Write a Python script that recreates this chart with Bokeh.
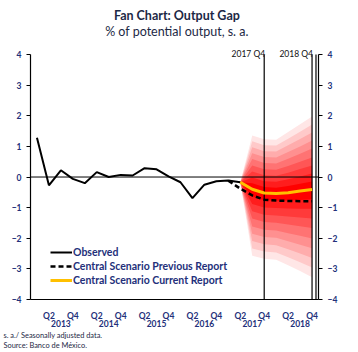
from bokeh.plotting import figure
from bokeh.models import (Range1d, LinearAxis, FixedTicker, Span, Label, Legend,
                          LegendItem, Title)
from bokeh.embed import file_html
from bokeh.resources import INLINE

# ---------------- data ----------------
# quarter index: 0 = 2013 Q1 ... 23 = 2018 Q4
obs_x = list(range(18))
observed = [1.28, -0.27, 0.22, -0.06, -0.20, 0.16, 0.00, 0.07, 0.05, 0.29,
            0.25, 0.02, -0.17, -0.69, -0.25, -0.14, -0.11, -0.17]

prev_x = [16, 17, 18, 19, 20, 21, 22, 23]
previous = [-0.12, -0.38, -0.60, -0.74, -0.77, -0.78, -0.79, -0.79]

curr_x = [17, 18, 19, 20, 21, 22, 23]
current = [-0.17, -0.40, -0.52, -0.54, -0.51, -0.46, -0.41]
fan_upper = [-0.17, 1.36, 1.23, 1.22, 1.47, 1.72, 1.98]
fan_lower = [-0.17, -2.57, -2.67, -2.70, -2.88, -3.07, -3.27]
band_shares = [1.0, 0.89, 0.78, 0.67, 0.56, 0.44, 0.33, 0.22, 0.11]

q_ticks = [1, 3, 5, 7, 9, 11, 13, 15, 17, 19, 21, 23]
q_labels = ["Q2", "Q4"] * 6
year_ticks = [2, 6, 10, 14, 18, 22]
year_labels = ["2013", "2014", "2015", "2016", "2017", "2018"]
y_ticks = [-4, -3, -2, -1, 0, 1, 2, 3, 4]
marker_x = [19, 23, 23.33]
marker_labels = ["2017 Q4", "2018 Q4"]

# ---------------- styles ----------------
FONT = "Lato"
NAVY = "#23307a"
DARK = "#1c2845"

p = figure(width=358, height=352, x_range=Range1d(-0.54, 23.54),
           y_range=Range1d(-4, 5.765), output_backend="svg", toolbar_location=None,
           x_axis_type=None, y_axis_type=None, title=None,
           min_border_left=30, min_border_right=40, min_border_top=0,
           min_border_bottom=53)
p.outline_line_color = None
p.background_fill_color = "white"
p.border_fill_color = "white"

# fan bands (outer -> inner)
n = len(band_shares)
for k, s in enumerate(band_shares):
    t = k / (n - 1)
    g = int(round(230 * (1 - t)))
    color = "#%02x%02x%02x" % (255, g, g)
    up = [c + s * (u - c) for c, u in zip(current, fan_upper)]
    lo = [c + s * (l - c) for c, l in zip(current, fan_lower)]
    p.varea(x=curr_x, y1=lo, y2=up, fill_color=color, fill_alpha=1.0)

# reference lines
p.add_layout(Span(location=0, dimension="width", line_color="black", line_width=1))
p.segment(x0=marker_x, y0=[-4] * len(marker_x), x1=marker_x, y1=[4] * len(marker_x),
          line_color="black", line_width=1.2)

r_obs = p.line(obs_x, observed, line_color="black", line_width=2)
r_prev = p.line(prev_x, previous, line_color="black", line_width=2.5, line_dash="5 3")
r_curr = p.line(curr_x, current, line_color="#ffc000", line_width=3)

# axes
left = LinearAxis(ticker=FixedTicker(ticks=y_ticks), bounds=(-4, 4))
right = LinearAxis(ticker=FixedTicker(ticks=y_ticks), bounds=(-4, 4))
for ax in (left, right):
    ax.axis_line_color = "black"
    ax.axis_line_width = 1.2
    ax.major_tick_out = 4
    ax.major_tick_in = 0
    ax.major_tick_line_color = "black"
    ax.minor_tick_line_color = None
    ax.major_label_standoff = 5
    ax.major_label_text_font = FONT
    ax.major_label_text_font_size = "8.5px"
    ax.major_label_text_font_style = "bold"
    ax.major_label_text_color = NAVY
p.add_layout(left, "left")
p.add_layout(right, "right")

qax = LinearAxis(ticker=FixedTicker(ticks=q_ticks),
                 major_label_overrides={t: l for t, l in zip(q_ticks, q_labels)})
qax.axis_line_color = "black"
qax.axis_line_width = 1.2
qax.major_tick_line_color = None
qax.major_tick_out = 0
qax.major_tick_in = 0
qax.minor_tick_line_color = None
qax.major_label_standoff = 11
qax.major_label_text_font = FONT
qax.major_label_text_font_size = "8.5px"
qax.major_label_text_font_style = "bold"
qax.major_label_text_color = NAVY
p.add_layout(qax, "below")

yax = LinearAxis(ticker=FixedTicker(ticks=year_ticks),
                 major_label_overrides={t: l for t, l in zip(year_ticks, year_labels)})
yax.axis_line_color = None
yax.major_tick_line_color = None
yax.major_tick_out = 0
yax.major_tick_in = 0
yax.minor_tick_line_color = None
yax.major_label_standoff = -4
yax.major_label_text_font = FONT
yax.major_label_text_font_size = "8.5px"
yax.major_label_text_font_style = "bold"
yax.major_label_text_color = NAVY
p.add_layout(yax, "below")

# marker labels
for mx, ml in zip(marker_x, marker_labels):
    p.add_layout(Label(x=mx, y=4, text=ml, text_align="right", text_baseline="middle",
                       x_offset=1, y_offset=1, text_font=FONT, text_font_size="8.5px",
                       text_color="#111111"))

# titles
p.add_layout(Label(x=11.7, y=5.27, text="Fan Chart: Output Gap", text_align="center",
                   text_baseline="middle", text_font=FONT, text_font_size="12.5px",
                   text_font_style="bold", text_color=DARK))
p.add_layout(Label(x=11.7, y=4.75, text="% of potential output, s. a.", text_align="center",
                   text_baseline="middle", text_font=FONT, text_font_size="12.5px",
                   text_color=DARK))

# footnotes
for txt in ["s. a./ Seasonally adjusted data.", "Source: Banco de México."]:
    p.add_layout(Title(text=txt, align="left", offset=-27, standoff=-1,
                       text_font=FONT, text_font_size="7.4px",
                       text_font_style="normal", text_color=DARK), "below")

legend = Legend(items=[LegendItem(label="Observed", renderers=[r_obs]),
                       LegendItem(label="Central Scenario Previous Report", renderers=[r_prev]),
                       LegendItem(label="Central Scenario Current Report", renderers=[r_curr])],
                location=(20, 13), orientation="vertical")
legend.background_fill_alpha = 0
legend.border_line_color = None
legend.padding = 0
legend.margin = 0
legend.spacing = 2
legend.glyph_width = 22
legend.glyph_height = 12
legend.label_standoff = 1
legend.label_height = 12
legend.label_text_font = FONT
legend.label_text_font_size = "10.5px"
legend.label_text_font_style = "bold"
legend.label_text_color = NAVY
p.add_layout(legend)

open("out.html", "w").write(file_html(p, INLINE))
